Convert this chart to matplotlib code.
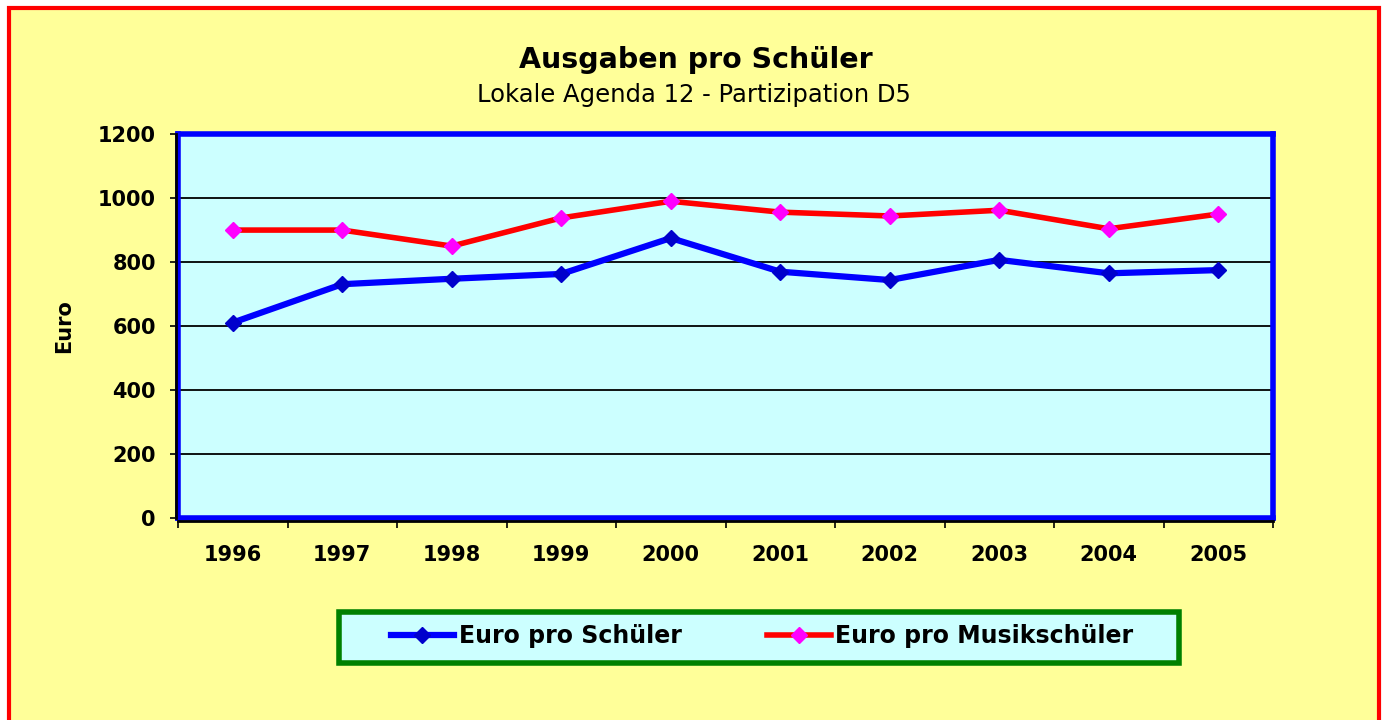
import matplotlib
matplotlib.use("Agg")
import matplotlib.pyplot as plt
import matplotlib.transforms as mtransforms
from matplotlib.patches import Rectangle
from matplotlib.lines import Line2D

years = ["1996", "1997", "1998", "1999", "2000", "2001", "2002", "2003", "2004", "2005"]
euro_schueler = [611, 731, 748, 763, 875, 770, 744, 807, 765, 775]
euro_musikschueler = [900, 900, 850, 938, 990, 956, 944, 962, 904, 950]
yticks = [0, 200, 400, 600, 800, 1000, 1200]

plt.rcParams['font.family'] = ['DejaVu Sans']

W, H = 1383, 720
fig = plt.figure(figsize=(W / 100, H / 100), dpi=100, facecolor='white')

# outer yellow area with red border
bg = Rectangle((9 / W, -0.05), (1378.5 - 9) / W, 1 - 7.5 / H + 0.05,
               transform=fig.transFigure, facecolor='#FFFF99', edgecolor='#FF0000',
               linewidth=3, zorder=-10, clip_on=False)
fig.patches.append(bg)

ax = fig.add_axes([178 / W, 1 - 518.3 / H, (1273 - 178) / W, (518.3 - 134) / H])
ax.set_facecolor('#CCFFFF')

x = list(range(len(years)))
ax.plot(x, euro_schueler, color='#0000FF', linewidth=4.5, marker='D', markersize=8,
        markerfacecolor='#0000CC', markeredgecolor='#0000CC', label='Euro pro Schüler', zorder=3)
ax.plot(x, euro_musikschueler, color='#FF0000', linewidth=4, marker='D', markersize=8,
        markerfacecolor='#FF00FF', markeredgecolor='#FF00FF', label='Euro pro Musikschüler', zorder=3)

ax.set_xlim(-0.5, len(years) - 0.5)
ax.set_ylim(0, 1200)
ax.set_yticks(yticks)
ax.set_yticklabels([str(v) for v in yticks], fontsize=15, fontweight='bold')
ax.set_xticks(x)
ax.set_xticklabels(years, fontsize=15, fontweight='bold')
ax.set_xticks([i - 0.5 for i in range(len(years) + 1)], minor=True)
ax.tick_params(axis='x', which='major', length=0, pad=19)
ax.tick_params(axis='x', which='minor', length=7, width=1.2, direction='out', color='black')
ax.tick_params(axis='y', which='major', length=6, width=1.2, direction='out', color='black', pad=10)

for v in yticks[1:-1]:
    ax.axhline(v, color='black', linewidth=1.3, zorder=1)

for s in ax.spines.values():
    s.set_color('#0000FF')
    s.set_linewidth(4)

# black axis lines just outside the blue border (left and bottom)
off_l = mtransforms.offset_copy(ax.transAxes, fig=fig, x=-2.5, y=0, units='dots')
off_b = mtransforms.offset_copy(ax.transAxes, fig=fig, x=0, y=-2.5, units='dots')
ax.add_line(Line2D([0, 0], [0, 1], transform=off_l, color='black', linewidth=2, clip_on=False, zorder=5))
ax.add_line(Line2D([0, 1], [0, 0], transform=off_b, color='black', linewidth=2, clip_on=False, zorder=5))

ax.set_ylabel('Euro', fontsize=15, fontweight='bold')
ax.yaxis.set_label_coords((74 - 178) / (1273 - 178), 0.5)

fig.text(696 / W, 1 - 60 / H, 'Ausgaben pro Schüler', ha='center', va='center',
         fontsize=20.5, fontweight='bold')
fig.text(694 / W, 1 - 95 / H, 'Lokale Agenda 12 - Partizipation D5', ha='center', va='center',
         fontsize=17.5)

# legend frame drawn separately for exact placement
frame = Rectangle((339 / W, 1 - 662.5 / H), (1179 - 339) / W, (662.5 - 612) / H,
                  transform=fig.transFigure, facecolor='#CCFFFF', edgecolor='#008000',
                  linewidth=4, zorder=1)
fig.patches.append(frame)
leg = fig.legend(loc='center', bbox_to_anchor=(762 / W, 1 - 636 / H), ncol=2,
                 fontsize=17, frameon=False, handlelength=2.7,
                 columnspacing=3.6, handletextpad=0.2, borderaxespad=0, borderpad=0)
leg.set_zorder(2)
for t in leg.get_texts():
    t.set_fontweight('bold')

fig.savefig('out.png', dpi=100, facecolor='white')
